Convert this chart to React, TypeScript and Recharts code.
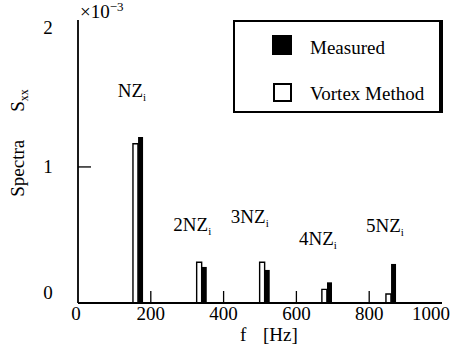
import React from "react";
import { BarChart, Bar, XAxis, YAxis, Legend, ReferenceDot, Customized } from "recharts";

const FONT = "'Liberation Serif', 'Times New Roman', serif";

// spectral peaks (Hz) and amplitudes (x10^-3)
const vortexFreq = [158, 333, 506, 677, 853];
const vortexAmp = [1.17, 0.3, 0.3, 0.1, 0.066];
const measuredFreq = [172, 347, 520, 691, 867];
const measuredAmp = [1.22, 0.265, 0.243, 0.152, 0.287];

// harmonic annotations
const harmonicNames = ["NZ", "2NZ", "3NZ", "4NZ", "5NZ"];
const harmonicLabelF = [148, 314, 472, 659, 843];
const harmonicLabelV = [1.56, 0.574, 0.63, 0.47, 0.566];

const xTicks = [0, 200, 400, 600, 800, 1000];
const yTicks = [0, 1, 2];

const rows = [
  ...vortexFreq.map((f, i) => ({ f, vortex: vortexAmp[i], measured: 0 })),
  ...measuredFreq.map((f, i) => ({ f, vortex: 0, measured: measuredAmp[i] })),
].sort((a, b) => a.f - b.f);

const XTick = (props: any) => {
  const { x, y, payload } = props;
  const v = payload.value;
  const dx = v === 1000 ? -10 : v === 0 ? -2 : 0;
  return (
    <g>
      {v > 0 && v < 1000 && (
        <line x1={x} x2={x} y1={y} y2={y - 12} stroke="#000" strokeWidth={1.3} />
      )}
      <text x={x + dx} y={y + 17} textAnchor="middle" fontFamily={FONT} fontSize={19} fill="#000">
        {v}
      </text>
    </g>
  );
};

const YTick = (props: any) => {
  const { x, y, payload } = props;
  const v = payload.value;
  const dy = v === 0 ? -4 : v === 2 ? 3 : 6;
  return (
    <g>
      {v === 1 && <line x1={x} x2={x + 13} y1={y} y2={y} stroke="#000" strokeWidth={1.3} />}
      <text x={x - 30} y={y + dy} textAnchor="middle" fontFamily={FONT} fontSize={19} fill="#000">
        {v}
      </text>
    </g>
  );
};

const renderLegend = () => (
  <div
    style={{
      width: 210,
      height: 93,
      boxSizing: "border-box",
      borderStyle: "solid",
      borderColor: "#000",
      borderWidth: "2px 4px 2px 2px",
      background: "#fff",
      position: "relative",
      fontFamily: FONT,
      fontSize: 19,
      lineHeight: "20px",
      color: "#000",
    }}
  >
    <div style={{ position: "absolute", left: 37, top: 13, width: 20, height: 20, background: "#000" }} />
    <span style={{ position: "absolute", left: 75, top: 16 }}>Measured</span>
    <div
      style={{
        position: "absolute",
        left: 38,
        top: 61,
        width: 19,
        height: 19,
        boxSizing: "border-box",
        border: "2.5px solid #000",
        background: "#fff",
      }}
    />
    <span style={{ position: "absolute", left: 75, top: 62, whiteSpace: "nowrap" }}>Vortex Method</span>
  </div>
);

const Titles = () => (
  <g fontFamily={FONT} fill="#000">
    <text x={80} y={18} fontSize={19}>
      ×10<tspan dy={-7} fontSize={13}>−3</tspan>
    </text>
    <text x={240} y={341} fontSize={19}>f</text>
    <text x={263} y={341} fontSize={19}>[Hz]</text>
    <g transform="translate(24,143) rotate(-90)">
      <text x={0} y={0} textAnchor="middle" fontSize={19}>
        Spectra
        <tspan dx={28}>S</tspan>
        <tspan dy={4} fontSize={12}>xx</tspan>
      </text>
    </g>
  </g>
);

export default function App() {
  return (
    <div style={{ position: "absolute", left: 0, top: 0, background: "#fff" }}>
      <BarChart
        width={457}
        height={356}
        data={rows}
        margin={{ top: 20, right: 15, bottom: 0, left: 0 }}
        barSize={5}
      >
        <XAxis
          dataKey="f"
          type="number"
          domain={[0, 1000]}
          ticks={xTicks}
          height={53}
          tickLine={false}
          tickSize={0}
          tickMargin={0}
          tick={<XTick />}
          axisLine={{ stroke: "#000", strokeWidth: 1.8 }}
        />
        <XAxis
          xAxisId="top"
          orientation="top"
          dataKey="f"
          type="number"
          domain={[0, 1000]}
          height={0}
          tick={false}
          tickLine={false}
          axisLine={{ stroke: "#000", strokeWidth: 1.8 }}
        />
        <YAxis
          type="number"
          domain={[0, 2.08]}
          ticks={yTicks}
          width={78}
          tickLine={false}
          tickSize={0}
          tickMargin={0}
          tick={<YTick />}
          axisLine={{ stroke: "#000", strokeWidth: 1.8 }}
        />
        <YAxis
          yAxisId="right"
          orientation="right"
          type="number"
          domain={[0, 2.08]}
          width={0}
          tick={false}
          tickLine={false}
          axisLine={{ stroke: "#000", strokeWidth: 1.8 }}
        />
        <Legend
          layout="vertical"
          align="center"
          verticalAlign="middle"
          content={renderLegend}
          wrapperStyle={{ position: "absolute", top: 20, left: 233, width: 210, height: 93, margin: 0, padding: 0 }}
        />
        <Bar dataKey="vortex" stackId="s" fill="#fff" stroke="#000" strokeWidth={1.4} isAnimationActive={false} />
        <Bar dataKey="measured" stackId="s" fill="#000" isAnimationActive={false} />
        {harmonicNames.map((name, i) => (
          <ReferenceDot
            key={name}
            x={harmonicLabelF[i]}
            y={harmonicLabelV[i]}
            r={1}
            shape={(p: any) => (
              <text x={p.cx} y={p.cy + 6} textAnchor="middle" fontFamily={FONT} fontSize={19} fill="#000">
                {name}
                <tspan dy={4} fontSize={11}>i</tspan>
              </text>
            )}
          />
        ))}
        <Customized component={<Titles />} />
      </BarChart>
    </div>
  );
}
